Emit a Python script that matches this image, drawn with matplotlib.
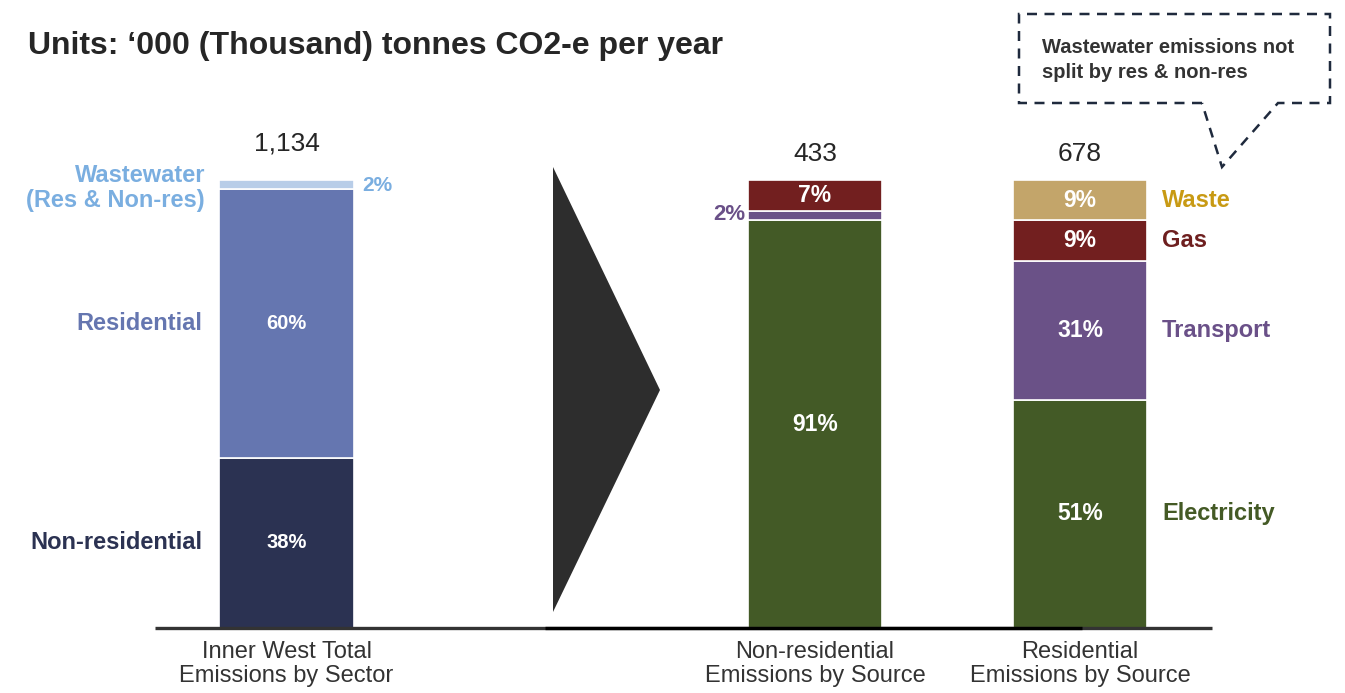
import matplotlib
matplotlib.use("Agg")
import matplotlib.pyplot as plt
from matplotlib.patches import Polygon

plt.rcParams['font.family'] = ['Liberation Sans', 'DejaVu Sans']

# ---- data -------------------------------------------------------------
totals = [1134, 433, 678]
bar_titles = ["Inner West Total\nEmissions by Sector",
              "Non-residential\nEmissions by Source",
              "Residential\nEmissions by Source"]

sector_names = ["Non-residential", "Residential", "Wastewater\n(Res & Non-res)"]
sector_share = [38, 60, 2]

source_names = ["Electricity", "Transport", "Gas", "Waste"]
nonres_share = [91, 2, 7, 0]
res_share = [51, 31, 9, 9]

# ---- styling ------------------------------------------------------------
sector_colors = ["#2b3252", "#6576b0", "#b8cde8"]
sector_text_colors = ["#2b3252", "#6576b0", "#7aaee0"]
source_colors = ["#435a26", "#6a5187", "#721f1f", "#c3a56a"]
source_text_colors = ["#445a25", "#6a5088", "#6e1f1f", "#c89a14"]

W, H = 1345, 693
BASE = 628          # baseline (pixel row)
PX_PER_PCT = 4.48   # vertical scale

fig = plt.figure(figsize=(W / 100, H / 100), dpi=100)
ax = fig.add_axes([0, 0, 1, 1])
ax.set_xlim(0, W)
ax.set_ylim(-(H - BASE) / PX_PER_PCT, BASE / PX_PER_PCT)
ax.axis("off")


def yp(pix):
    """Pixel row -> data y."""
    return (BASE - pix) / PX_PER_PCT


centers = [286.5, 815, 1080]
bw = 135

# ---- bar 1: by sector ------------------------------------------------
bottom = 0
for i, (name, v) in enumerate(zip(sector_names, sector_share)):
    ax.bar(centers[0], v, bottom=bottom, width=bw, color=sector_colors[i],
           edgecolor="white", linewidth=1.2)
    mid = bottom + v / 2
    if i < 2:
        ax.text(centers[0], mid, f"{v}%", ha="center", va="center",
                color="white", fontsize=14.5, fontweight="bold")
        ax.text(202, mid, name, ha="right", va="center",
                color=sector_text_colors[i], fontsize=17, fontweight="bold")
    else:
        ax.text(centers[0] + bw / 2 + 8, yp(185), f"{v}%", ha="left", va="center",
                color=sector_text_colors[i], fontsize=15, fontweight="bold")
        ax.text(205, yp(188), name, ha="right", va="center", linespacing=1.15,
                color=sector_text_colors[i], fontsize=17, fontweight="bold")
    bottom += v

# ---- bar 2: non-residential by source ---------------------------------
bottom = 0
for i, v in enumerate(nonres_share):
    if v == 0:
        continue
    ax.bar(centers[1], v, bottom=bottom, width=bw - 1, color=source_colors[i],
           edgecolor="white", linewidth=1.2)
    mid = bottom + v / 2
    if v >= 5:
        ax.text(centers[1], mid, f"{v}%", ha="center", va="center",
                color="white", fontsize=16.5, fontweight="bold")
    else:
        ax.text(centers[1] - bw / 2 - 2, yp(215), f"{v}%", ha="right", va="center",
                color=source_text_colors[i], fontsize=16, fontweight="bold")
    bottom += v

# ---- bar 3: residential by source ---------------------------------------
bottom = 0
for i, v in enumerate(res_share):
    ax.bar(centers[2], v, bottom=bottom, width=bw - 1, color=source_colors[i],
           edgecolor="white", linewidth=1.2)
    mid = bottom + v / 2
    ax.text(centers[2], mid, f"{v}%", ha="center", va="center",
            color="white", fontsize=16.5, fontweight="bold")
    ax.text(1162, mid, source_names[i], ha="left", va="center",
            color=source_text_colors[i], fontsize=17, fontweight="bold")
    bottom += v

# ---- totals above bars -------------------------------------------------
total_rows = [143, 154, 154]
for c, t, r in zip(centers, totals, total_rows):
    ax.text(c, yp(r), f"{t:,}", ha="center", va="center",
            color="#262626", fontsize=19)

# ---- category labels under the baseline ----------------------------------
for c, t in zip(centers, bar_titles):
    ax.text(c, yp(664), t, ha="center", va="center", color="#333333",
            fontsize=17, linespacing=1.15)

# ---- baseline -------------------------------------------------------------
ax.plot([155, 1212], [0, 0], color="#333333", lw=2.4, solid_capstyle="butt")
ax.plot([545, 1082], [0, 0], color="#000000", lw=2.4, solid_capstyle="butt")

# ---- arrow-head between the breakdowns -------------------------------------
ax.add_patch(Polygon([(553, yp(167)), (660, yp(390)), (553, yp(612))],
                     closed=True, facecolor="#2d2d2d", edgecolor="none"))

# ---- title ---------------------------------------------------------------------
ax.text(28, yp(46), "Units: \u2018000 (Thousand) tonnes CO2-e per year",
        ha="left", va="center", color="#262626", fontsize=23, fontweight="bold")

# ---- callout ------------------------------------------------------------------
callout = [(1202, 103), (1019, 103), (1019, 14), (1330, 14), (1330, 103),
           (1278, 103), (1222, 167)]
ax.add_patch(Polygon([(x, yp(y)) for x, y in callout], closed=True,
                     facecolor="none", edgecolor="#1f2a3d", lw=1.8,
                     linestyle=(0, (4, 3))))
ax.text(1042, yp(60), "Wastewater emissions not\nsplit by res & non-res",
        ha="left", va="center", color="#333333", fontsize=14.5,
        fontweight="bold", linespacing=1.35)

fig.savefig("out.png", dpi=100)
